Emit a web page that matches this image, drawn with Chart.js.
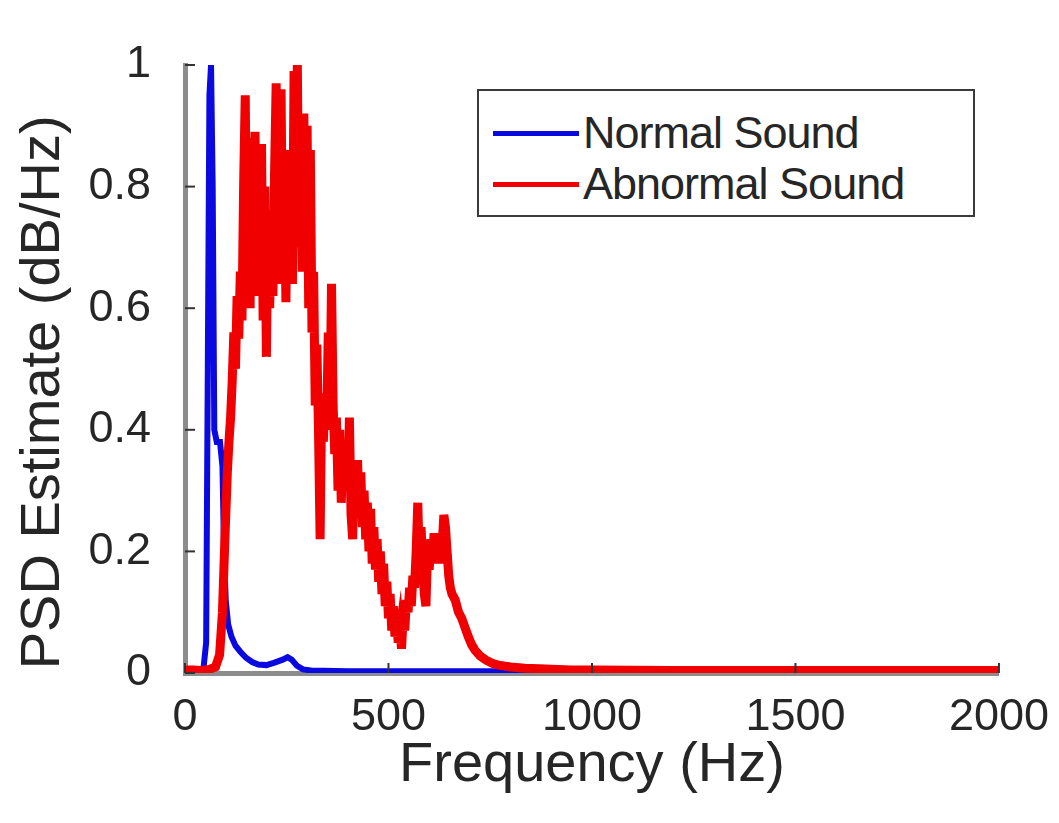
<!DOCTYPE html>
<html>
<head>
<meta charset="utf-8">
<script src="https://cdn.jsdelivr.net/npm/chart.js@4.4.1/dist/chart.umd.min.js"></script>
<style>
    body { margin: 0; background: #fff; }
    #wrap { position: relative; width: 1059px; height: 823px; }
    .legend {
        position: absolute; left: 477px; top: 89px; width: 494px; height: 124px;
        border: 2px solid #3a3a3a; background: #fff;
        font-family: 'Liberation Sans', Arial, sans-serif; font-size: 45px; color: #262626;
    }
    .legend .row { position: absolute; left: 14px; height: 50px; display: flex; align-items: center; }
    .legend .swatch { width: 86px; height: 5px; margin-right: 4px; }
    .legend span { letter-spacing: -1px; }
</style>
</head>
<body>
<div id="wrap">
    <canvas id="psdChart" width="1059" height="823"></canvas>
    <div class="legend">
        <div class="row" style="top: 17px;"><div class="swatch" style="background:#0a0ae0"></div><span>Normal Sound</span></div>
        <div class="row" style="top: 68px;"><div class="swatch" style="background:#f00000"></div><span>Abnormal Sound</span></div>
    </div>
</div>
<script>
// ─── data ───
const normalFreq = [0, 30, 45, 52, 56, 60, 64, 68, 72, 78,
    86, 92, 96, 100, 106, 114, 124, 136, 150, 165,
    180, 200, 220, 240, 252, 262, 275, 290, 310, 400,
    600, 900, 1200, 1600, 2000];
const normalPsd = [0.003, 0.003, 0.005, 0.05, 0.5, 0.95, 1.0, 0.8, 0.40, 0.38,
    0.38, 0.34, 0.2, 0.12, 0.08, 0.06, 0.045, 0.035, 0.025, 0.018,
    0.014, 0.013, 0.017, 0.022, 0.026, 0.022, 0.012, 0.006, 0.004, 0.003,
    0.003, 0.003, 0.003, 0.003, 0.003];

const abnormalFreq = [0, 20, 40, 60, 75, 85, 92, 98, 104, 108,
    112, 116, 120, 124, 128, 132, 136, 140, 144, 148,
    152, 156, 160, 164, 168, 172, 176, 180, 184, 188,
    192, 196, 200, 204, 208, 212, 216, 220, 224, 228,
    232, 236, 240, 244, 248, 252, 256, 260, 264, 268,
    272, 276, 280, 284, 288, 292, 296, 300, 304, 308,
    312, 316, 320, 324, 328, 332, 336, 340, 344, 348,
    352, 356, 360, 364, 368, 372, 376, 380, 384, 388,
    392, 396, 400, 404, 408, 412, 416, 420, 424, 428,
    432, 436, 440, 444, 448, 452, 456, 460, 464, 468,
    472, 476, 480, 484, 488, 492, 496, 500, 504, 508,
    512, 516, 520, 524, 528, 532, 536, 540, 544, 548,
    552, 556, 560, 564, 568, 572, 576, 580, 584, 588,
    592, 596, 600, 604, 608, 612, 616, 620, 624, 628,
    632, 636, 640, 644, 648, 652, 656,
    664, 672, 680, 688, 696, 704, 712, 725, 740, 755,
    770, 800, 835, 870, 900, 950, 1000, 1200, 1500, 1800, 2000];
const abnormalPsd = [0.005, 0.005, 0.004, 0.006, 0.01, 0.03, 0.10, 0.22, 0.33, 0.38,
    0.42, 0.48, 0.56, 0.50, 0.62, 0.55, 0.66, 0.58, 0.80, 0.95,
    0.64, 0.86, 0.60, 0.88, 0.66, 0.89, 0.62, 0.86, 0.70, 0.87,
    0.58, 0.80, 0.52, 0.76, 0.60, 0.72, 0.62, 0.82, 0.97, 0.64,
    0.90, 0.96, 0.66, 0.80, 0.61, 0.86, 0.70, 0.84, 0.64, 0.99,
    0.72, 1.00, 0.70, 0.88, 0.66, 0.92, 0.68, 0.90, 0.60, 0.86,
    0.56, 0.66, 0.44, 0.54, 0.40, 0.22, 0.46, 0.38, 0.46, 0.40,
    0.56, 0.42, 0.64, 0.44, 0.36, 0.42, 0.30, 0.40, 0.28, 0.38,
    0.30, 0.36, 0.30, 0.42, 0.26, 0.22, 0.34, 0.28, 0.35, 0.26,
    0.33, 0.24, 0.30, 0.22, 0.28, 0.20, 0.27, 0.18, 0.24, 0.17,
    0.22, 0.15, 0.20, 0.13, 0.18, 0.11, 0.15, 0.09, 0.13, 0.07,
    0.11, 0.06, 0.09, 0.05, 0.07, 0.04, 0.09, 0.07, 0.12, 0.10,
    0.14, 0.11, 0.16, 0.14, 0.20, 0.28, 0.17, 0.24, 0.18, 0.13,
    0.11, 0.20, 0.17, 0.22, 0.18, 0.23, 0.19, 0.22, 0.18, 0.23,
    0.21, 0.26, 0.24, 0.20, 0.16, 0.14, 0.13,
    0.12, 0.10, 0.09, 0.075, 0.06, 0.047, 0.038, 0.028, 0.021, 0.016,
    0.013, 0.010, 0.008, 0.007, 0.006, 0.005, 0.005, 0.004, 0.004, 0.004, 0.004];

const xTicks = [0, 500, 1000, 1500, 2000];
const yTicks = [0, 0.2, 0.4, 0.6, 0.8, 1];

const FONT = "'Liberation Sans', Arial, Helvetica, sans-serif";
const toPoints = (xs, ys) => xs.map((x, i) => ({ x, y: ys[i] }));

// small inward tick marks, MATLAB style
const innerTicks = {
    id: 'innerTicks',
    afterDatasetsDraw(chart) {
        const { ctx, chartArea, scales: { x, y } } = chart;
        ctx.save();
        ctx.strokeStyle = '#333';
        ctx.lineWidth = 2;
        y.ticks.forEach(t => {
            const py = y.getPixelForValue(t.value);
            ctx.beginPath();
            ctx.moveTo(chartArea.left, py);
            ctx.lineTo(chartArea.left + 10, py);
            ctx.stroke();
        });
        x.ticks.forEach(t => {
            const px = x.getPixelForValue(t.value);
            ctx.beginPath();
            ctx.moveTo(px, chartArea.bottom);
            ctx.lineTo(px, chartArea.bottom - 10);
            ctx.stroke();
        });
        ctx.restore();
    }
};

const axisCommon = {
    border: { display: true, color: '#8c8c8c', width: 5 },
    grid: { display: false },
    ticks: { color: '#262626', font: { family: FONT, size: 45 }, callback: v => String(v) },
    title: { display: true, color: '#262626', font: { family: FONT, size: 56 } }
};

new Chart(document.getElementById('psdChart'), {
    type: 'line',
    data: {
        datasets: [
            {
                label: 'Normal Sound',
                data: toPoints(normalFreq, normalPsd),
                borderColor: '#0a0ae0',
                borderWidth: 6,
                pointRadius: 0,
                tension: 0,
                order: 1
            },
            {
                label: 'Abnormal Sound',
                data: toPoints(abnormalFreq, abnormalPsd),
                borderColor: '#f00000',
                borderWidth: 9,
                pointRadius: 0,
                tension: 0,
                order: 0
            }
        ]
    },
    options: {
        responsive: false,
        animation: false,
        layout: { padding: { top: 65, right: 26, left: 0, bottom: 0 } },
        plugins: { legend: { display: false }, tooltip: { enabled: false } },
        scales: {
            x: {
                ...axisCommon,
                type: 'linear',
                min: 0, max: 2000,
                afterFit: s => { s.height = 150; },
                afterBuildTicks: s => { s.ticks = xTicks.map(v => ({ value: v })); },
                ticks: { ...axisCommon.ticks, padding: 10, maxRotation: 0 },
                title: { ...axisCommon.title, text: 'Frequency (Hz)', padding: { bottom: 24 } }
            },
            y: {
                ...axisCommon,
                min: 0, max: 1,
                afterFit: s => { s.width = 185; },
                afterBuildTicks: s => { s.ticks = yTicks.map(v => ({ value: v })); },
                ticks: { ...axisCommon.ticks, padding: 26 },
                title: { ...axisCommon.title, text: 'PSD Estimate (dB/Hz)\u00a0\u00a0\u00a0', padding: { top: 10 } }
            }
        }
    },
    plugins: [innerTicks]
});
</script>
</body>
</html>
